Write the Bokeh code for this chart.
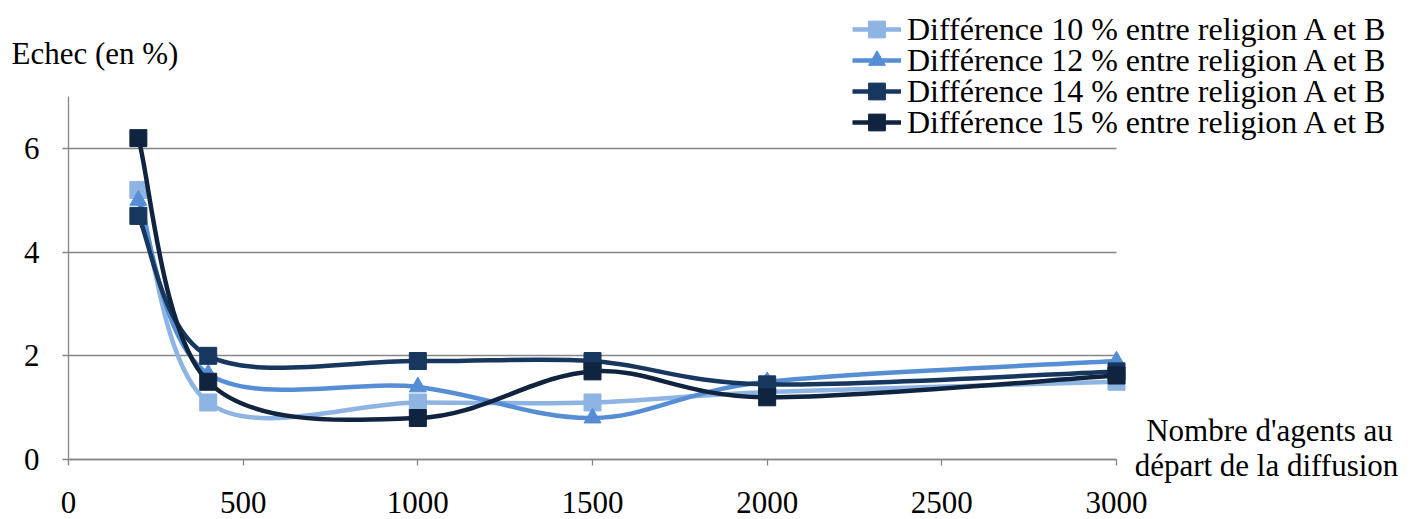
import numpy as np
from bokeh.plotting import figure
from bokeh.models import Range1d, FixedTicker, Legend, LegendItem, Label, Grid
from bokeh.embed import file_html
from bokeh.resources import INLINE

# ---- data ----
x_agents = [200, 400, 1000, 1500, 2000, 3000]
diff_10 = [5.2, 1.1, 1.1, 1.1, 1.3, 1.5]
diff_12 = [5.0, 1.65, 1.4, 0.8, 1.5, 1.9]
diff_14 = [4.7, 2.0, 1.9, 1.9, 1.45, 1.7]
diff_15 = [6.2, 1.5, 0.8, 1.7, 1.2, 1.62]
series_labels = [
    "Différence 10 % entre religion A et B",
    "Différence 12 % entre religion A et B",
    "Différence 14 % entre religion A et B",
    "Différence 15 % entre religion A et B",
]
x_ticks = [0, 500, 1000, 1500, 2000, 2500, 3000]
y_ticks = [0, 2, 4, 6]
y_max = 7
y_title = "Echec (en %)"
x_title_lines = ["Nombre d'agents au", "départ de la diffusion"]

colors = ["#8EB4E3", "#558ED5", "#17375E", "#10243F"]
markers = ["square", "triangle", "square", "square"]
FONT = "Liberation Serif"
FS = "31px"
LEG_FS = "32px"
GRID = "#868686"

# ---- layout (pixels) ----
W, H = 1414, 519
PX_X0, PX_X1 = 68, 1116      # pixel of x=0 and x=3000
PX_Y0, PX_Y6 = 459, 148      # pixel of y=0 and y=6
LEG_LEFT, LEG_ROW0, LEG_PITCH, LEG_GH = 852, 29, 31, 42
sx = (PX_X1 - PX_X0) / (x_ticks[-1] - x_ticks[0])
sy = (PX_Y0 - PX_Y6) / 6.0


def dx(px):
    return x_ticks[0] + (px - PX_X0) / sx


def dy(py):
    return (PX_Y0 - py) / sy


def bezier_controls(xs, ys):
    P = [np.array([x, y], dtype=float) for x, y in zip(xs, ys)]
    n = len(P)
    out = {k: [] for k in ("x0", "y0", "x1", "y1", "cx0", "cy0", "cx1", "cy1")}
    for i in range(n - 1):
        pm = P[i - 1] if i > 0 else P[i]
        pa, pb = P[i], P[i + 1]
        pn = P[i + 2] if i + 2 < n else P[i + 1]
        c1 = pa + (pb - pm) / 6.0
        c2 = pb - (pn - pa) / 6.0
        out["x0"].append(pa[0]); out["y0"].append(pa[1])
        out["x1"].append(pb[0]); out["y1"].append(pb[1])
        out["cx0"].append(c1[0]); out["cy0"].append(c1[1])
        out["cx1"].append(c2[0]); out["cy1"].append(c2[1])
    return out


p = figure(width=W, height=H, output_backend="svg", toolbar_location=None,
           x_range=Range1d(dx(0), dx(W)), y_range=Range1d(dy(H), dy(0)), title=None,
           min_border_left=0, min_border_right=0, min_border_top=0, min_border_bottom=0)
p.outline_line_color = None
p.background_fill_color = "white"
p.border_fill_color = "white"

# grid
p.xgrid.grid_line_color = None
p.ygrid.ticker = FixedTicker(ticks=y_ticks)
p.ygrid.grid_line_color = GRID
p.ygrid.grid_line_width = 1.3
if "cross_bounds" in Grid.properties():
    p.ygrid.cross_bounds = (x_ticks[0], x_ticks[-1])
else:
    p.ygrid.grid_line_color = None
    p.segment(x0=[x_ticks[0]] * len(y_ticks), x1=[x_ticks[-1]] * len(y_ticks),
              y0=y_ticks, y1=y_ticks, line_color=GRID, line_width=1.3)

# axes
p.xaxis.ticker = FixedTicker(ticks=x_ticks)
p.yaxis.ticker = FixedTicker(ticks=y_ticks)
p.xaxis.fixed_location = 0
p.yaxis.fixed_location = 0
p.xaxis.bounds = (x_ticks[0], x_ticks[-1])
p.yaxis.bounds = (0, y_max)
for ax in (p.xaxis, p.yaxis):
    ax.axis_line_color = GRID
    ax.axis_line_width = 1.3
    ax.major_tick_line_color = GRID
    ax.major_tick_line_width = 1.3
    ax.major_tick_in = 0
    ax.major_tick_out = 6
    ax.minor_tick_line_color = None
    ax.major_label_text_font = FONT
    ax.major_label_text_font_size = FS
    ax.major_label_text_color = "black"
p.xaxis.major_label_standoff = 26
p.yaxis.major_label_standoff = 23

# series
for i, (ys, col, mk, lab) in enumerate(zip([diff_10, diff_12, diff_14, diff_15],
                                            colors, markers, series_labels)):
    b = p.bezier(source=bezier_controls(x_agents, ys), x0="x0", y0="y0", x1="x1", y1="y1",
                 cx0="cx0", cy0="cy0", cx1="cx1", cy1="cy1",
                 line_color=col, line_width=4.5)
    s = p.scatter(x_agents, ys, marker=mk, size=17, fill_color=col, line_color=col)
    row_center = LEG_ROW0 + i * LEG_PITCH
    leg = Legend(items=[LegendItem(label=lab, renderers=[b, s])],
                 location=(LEG_LEFT, H - (row_center + LEG_GH / 2)),
                 padding=0, margin=0, glyph_width=49, glyph_height=LEG_GH,
                 label_height=LEG_GH, spacing=0, label_standoff=6,
                 label_text_font=FONT, label_text_font_size=LEG_FS,
                 label_text_color="black", border_line_alpha=0, background_fill_alpha=0)
    p.add_layout(leg)

p.add_layout(Label(x=dx(11), y=dy(53), text=y_title, text_font=FONT, text_font_size=FS,
                   text_align="left", text_baseline="middle", text_color="black"))
p.add_layout(Label(x=dx(1269), y=dy(430), text=x_title_lines[0], text_font=FONT,
                   text_font_size=FS, text_align="center", text_baseline="middle",
                   text_color="black"))
p.add_layout(Label(x=dx(1266), y=dy(465), text=x_title_lines[1], text_font=FONT,
                   text_font_size=FS, text_align="center", text_baseline="middle",
                   text_color="black"))

open("out.html", "w").write(file_html(p, INLINE))
